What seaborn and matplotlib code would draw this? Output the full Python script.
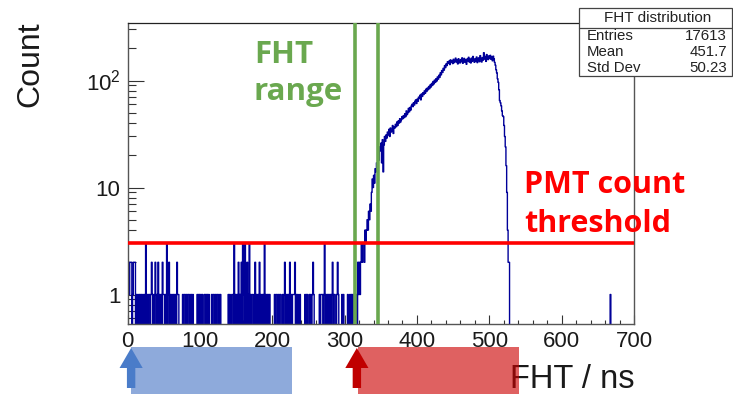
import numpy as np
import pandas as pd
import matplotlib
matplotlib.use("Agg")
import matplotlib.pyplot as plt
import matplotlib.ticker as mticker
import matplotlib.transforms as mtransforms
from matplotlib.patches import Rectangle, Polygon
import seaborn as sns

# ---------------- data ----------------
# counts per 1 ns bin, 0..319 ns (sparse dark-noise hits), 10 bins per string
NOISE_COUNTS_0_319 = [
    "2212220122", "2010101101", "0101030101", "1012101021",
    "0120101021", "1010301201", "0101101021", "1000001011",
    "0101101010", "1000001011", "0101001101", "1010001011",
    "0101101010", "0000000001", "0100110301", "0102101203",
    "1030120130", "1011012010", "1020101103", "0101101000",
    "0001011010", "1100101201", "0110201011", "1201010010",
    "0000010110", "0101012100", "0000010111", "0130101101",
    "1012011001", "2100001010", "0000100101", "0101101021",
]
# counts per 1 ns bin, 320..529 ns (main first-hit-time peak)
PEAK_COUNTS_320_529 = [
    2, 1, 2, 3, 2, 3, 3, 2, 4, 3,
    4, 5, 4, 6, 5, 7, 6, 9, 12, 10,
    13, 11, 15, 14, 17, 16, 20, 18, 24, 22,
    26, 17, 28, 14, 25, 30, 27, 31, 29, 33,
    31, 35, 30, 36, 33, 34, 38, 32, 37, 36,
    39, 37, 41, 38, 42, 40, 44, 41, 43, 46,
    44, 47, 45, 49, 46, 52, 48, 50, 55, 51,
    56, 53, 58, 60, 57, 62, 59, 64, 66, 61,
    67, 64, 70, 68, 73, 66, 75, 71, 77, 74,
    80, 76, 83, 79, 85, 82, 88, 84, 91, 87,
    94, 90, 98, 93, 101, 96, 104, 99, 108, 103,
    112, 107, 118, 113, 124, 119, 130, 125, 138, 132,
    143, 138, 150, 145, 152, 141, 156, 148, 153, 144,
    158, 147, 151, 162, 149, 155, 143, 160, 152, 146,
    157, 150, 163, 145, 154, 161, 148, 156, 142, 159,
    153, 165, 149, 158, 146, 162, 151, 168, 155, 148,
    160, 152, 166, 147, 157, 163, 150, 171, 158, 149,
    164, 155, 182, 159, 168, 151, 175, 162, 157, 170,
    161, 172, 158, 166, 153, 169, 160, 148, 139, 126,
    118, 104, 96, 82, 65, 62, 58, 52, 47, 46,
    38, 30, 24, 16, 9, 4, 2, 2, 0, 0,
]
LATE_HIT_BINS = [667]
LATE_HIT_COUNTS = [1]
N_BINS = 700
X_RANGE = (0, 700)

FHT_RANGE = [315, 346]          # green lines (ns)
PMT_THRESHOLD = 3.0             # red line (counts)
STATS_TITLE = "FHT distribution"
STATS_LABELS = ["Entries", "Mean", "Std Dev"]
STATS_VALUES = ["17613", "451.7", "50.23"]
X_TICKS = [0, 100, 200, 300, 400, 500, 600, 700]
Y_TICKS = [1, 10, 100]
Y_TICK_LABELS = ["1", "10", r"$\mathregular{10^{2}}$"]
BLUE_SPAN = [5, 227]            # ns under the axis
RED_SPAN = [319, 541]
ARROW_POS = [5, 317]

# ---------------- build histogram table ----------------
counts = [int(c) for s in NOISE_COUNTS_0_319 for c in s] + list(PEAK_COUNTS_320_529)
counts += [0] * (N_BINS - len(counts))
for b, c in zip(LATE_HIT_BINS, LATE_HIT_COUNTS):
    counts[b] = c
df = pd.DataFrame({"fht": np.arange(N_BINS) + 0.5, "count": counts})

# ---------------- style ----------------
sns.set_style("ticks")
plt.rcParams["font.family"] = ["Liberation Sans", "DejaVu Sans"]
plt.rcParams["mathtext.fontset"] = "custom"
plt.rcParams["mathtext.rm"] = "Liberation Sans"
plt.rcParams["mathtext.it"] = "Liberation Sans:italic"

W, H = 733, 395
fig = plt.figure(figsize=(W / 100, H / 100), dpi=100)
ax = fig.add_axes([127.5 / W, 1 - 324 / H, (634 - 127.5) / W, (324 - 23) / H])
ax.set_yscale("log")

sns.histplot(data=df, x="fht", weights="count", bins=N_BINS, binrange=X_RANGE,
             element="step", fill=False, color="#000099", linewidth=1.0, ax=ax)

ax.set_xlim(*X_RANGE)
ax.set_ylim(0.53, 345)

# frame
for s in ["left", "right", "bottom"]:
    ax.spines[s].set_color("#555555")
    ax.spines[s].set_linewidth(1.0)
ax.spines["top"].set_color("#222222")
ax.spines["top"].set_linewidth(0.9)

ax.set_xticks(X_TICKS)
ax.xaxis.set_minor_locator(mticker.MultipleLocator(20))
ax.set_yticks(Y_TICKS)
ax.set_yticklabels(Y_TICK_LABELS)
ax.yaxis.set_minor_locator(mticker.LogLocator(base=10, subs=np.arange(2, 10)))
ax.yaxis.set_minor_formatter(mticker.NullFormatter())
ax.tick_params(axis="x", which="major", direction="in", length=6.5, width=0.8,
               color="#333333", labelsize=16, pad=5, labelcolor="#1a1a1a")
ax.tick_params(axis="x", which="minor", direction="in", length=3.2, width=0.8, color="#333333")
ax.tick_params(axis="y", which="major", direction="in", length=11.5, width=0.8,
               color="#333333", labelsize=16, pad=5, labelcolor="#1a1a1a")
ax.tick_params(axis="y", which="minor", direction="in", length=5.8, width=0.8, color="#333333")

ax.set_ylabel("")
ax.set_xlabel("FHT / ns", fontsize=23.5, color="#1a1a1a")
ax.xaxis.set_label_coords(1.0, -0.212)
ax.xaxis.label.set_ha("right")
ax.xaxis.label.set_va("baseline")

fig.text(30 / W, 1 - 64.5 / H, "Count", rotation=90, ha="center", va="center",
         fontsize=23, color="#1a1a1a")

# FHT range lines and threshold
for xv in FHT_RANGE:
    ax.axvline(xv, color="#6aa84f", lw=2.6, zorder=4)
ax.axhline(PMT_THRESHOLD, color="#ff0000", lw=2.6, zorder=4)

ann_font = ["Open Sans", "DejaVu Sans"]
fig.text(254 / W, 1 - 63 / H, "FHT", color="#6aa84f", fontsize=22.5, fontweight="bold",
         family=ann_font, va="baseline", ha="left")
fig.text(253 / W, 1 - 100 / H, "range", color="#6aa84f", fontsize=22.5, fontweight="bold",
         family=ann_font, va="baseline", ha="left")
fig.text(524 / W, 1 - 193 / H, "PMT count", color="#ff0000", fontsize=22, fontweight="bold",
         family=ann_font, va="baseline", ha="left")
fig.text(524 / W, 1 - 232 / H, "threshold", color="#ff0000", fontsize=22, fontweight="bold",
         family=ann_font, va="baseline", ha="left")

# stats box
bx0, bx1 = 579 / W, 731.5 / W
by_top, by_sep, by_bot = 1 - 8 / H, 1 - 28 / H, 1 - 76 / H
fig.patches.append(Rectangle((bx0, by_bot), bx1 - bx0, by_top - by_bot, transform=fig.transFigure,
                             facecolor="white", edgecolor="#444444", lw=0.9, zorder=10))
fig.lines.append(plt.Line2D([bx0, bx1], [by_sep, by_sep], transform=fig.transFigure,
                            color="#444444", lw=0.9, zorder=11))
fig.text((bx0 + bx1) / 2 + 2 / W, 1 - 17.5 / H, STATS_TITLE, ha="center", va="center",
         fontsize=11, color="#222222", zorder=12)
for i, (lab, val) in enumerate(zip(STATS_LABELS, STATS_VALUES)):
    yy = 1 - (35.5 + 16.5 * i) / H
    fig.text(587 / W, yy, lab, ha="left", va="center", fontsize=10.8, color="#222222", zorder=12)
    fig.text(727 / W, yy, val, ha="right", va="center", fontsize=10.8, color="#222222", zorder=12)

# annotations under the axis (x in data units, y in figure units)
trans = mtransforms.blended_transform_factory(ax.transData, fig.transFigure)
def fy(py):
    return 1 - py / H

ax.add_patch(Rectangle((BLUE_SPAN[0], fy(394)), BLUE_SPAN[1] - BLUE_SPAN[0], fy(347) - fy(394),
                       transform=trans, facecolor="#8eaadb", edgecolor="none",
                       clip_on=False, zorder=6))
ax.add_patch(Rectangle((RED_SPAN[0], fy(394)), RED_SPAN[1] - RED_SPAN[0], fy(347) - fy(394),
                       transform=trans, facecolor="#cc0000", alpha=0.62, edgecolor="none",
                       clip_on=False, zorder=6))

def arrow(xc, color):
    hw, sw = 16.0, 5.8
    pts = [(xc, fy(348)), (xc + hw, fy(368)), (xc + sw, fy(368)), (xc + sw, fy(388)),
           (xc - sw, fy(388)), (xc - sw, fy(368)), (xc - hw, fy(368))]
    ax.add_patch(Polygon(pts, closed=True, transform=trans, facecolor=color,
                         edgecolor="none", clip_on=False, zorder=7))

arrow(ARROW_POS[0], "#4a7cc9")
arrow(ARROW_POS[1], "#c00000")

fig.savefig("out.png", dpi=100)
